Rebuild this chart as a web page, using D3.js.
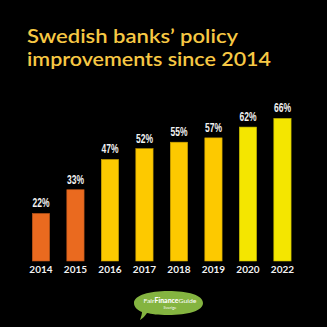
<!DOCTYPE html>
<html>
<head>
<meta charset="utf-8">
<script src="https://cdn.jsdelivr.net/npm/d3@7"></script>
<style>
html,body{margin:0;padding:0;background:#000;}
svg{display:block;}
</style>
</head>
<body>
<svg id="chart" width="327" height="327"></svg>
<script>
const years = ["2014","2015","2016","2017","2018","2019","2020","2022"];
const values = [22,33,47,52,55,57,62,66];
const barColors = ["#ea6a1f","#ea6a1f","#fdc900","#fdc900","#fdc900","#fdc900","#f4e600","#f4e600"];
const titleLines = ["Swedish banks\u2019 policy","improvements since 2014"];
const titleWidths = [211,244];

const svg = d3.select("#chart");
svg.append("rect").attr("width",327).attr("height",327).attr("fill","#000");

// Title
svg.append("g").selectAll("text").data(titleLines).join("text")
  .attr("x",27).attr("y",(d,i)=>43 + i*23)
  .attr("fill","#f7c844")
  .attr("font-family","Lato, 'Open Sans', sans-serif")
  .attr("font-weight",600)
  .attr("font-size",19)
  .attr("textLength",(d,i)=>titleWidths[i])
  .attr("lengthAdjust","spacingAndGlyphs")
  .text(d=>d);

const x = d3.scaleBand().domain(years).range([23.7,299.7]).paddingInner(0.5).paddingOuter(0.25);
const y = d3.scaleLinear().domain([0,100]).range([261,45]);

svg.selectAll("rect.bar").data(values).join("rect")
  .attr("class","bar")
  .attr("x",(d,i)=>x(years[i]))
  .attr("y",d=>y(d))
  .attr("width",x.bandwidth())
  .attr("height",d=>y(0)-y(d))
  .attr("fill",(d,i)=>barColors[i])
  .attr("stroke",(d,i)=>d3.color(barColors[i]).darker(0.6))
  .attr("stroke-width",0.6);

svg.selectAll("text.val").data(values).join("text")
  .attr("class","val")
  .attr("x",(d,i)=>x(years[i])+x.bandwidth()/2)
  .attr("y",d=>y(d)-6)
  .attr("text-anchor","middle")
  .attr("fill","#f2f2f2")
  .attr("font-family","'Liberation Sans','DejaVu Sans',sans-serif")
  .attr("font-weight",700)
  .attr("font-size",12.5)
  .attr("textLength",17)
  .attr("lengthAdjust","spacingAndGlyphs")
  .text(d=>d+"%");

// x axis labels
const xAxis = d3.axisBottom(x).tickSize(0).tickPadding(0);
const ax = svg.append("g").attr("transform","translate(0,266)").call(xAxis);
ax.select(".domain").remove();
ax.selectAll("text")
  .attr("fill","#f2f2f2")
  .attr("font-family","Lato, sans-serif")
  .attr("font-weight",700)
  .attr("font-size",10)
  .attr("dy","0.71em");

// Logo
const logo = svg.append("g").attr("transform","translate(168,303)");
logo.append("path")
  .attr("d","M-34,0 C-34,-8 -18,-12 0,-12 C20,-12 35,-8 35,0 C35,8 20,12 0,12 C-10,12 -17,11 -21,10 C-23,13 -25,15 -28,17 C-27,14 -26,11 -26,9 C-31,7 -34,4 -34,0 Z")
  .attr("fill","#84b440");
logo.append("text").attr("x",2).attr("y",-0.5).attr("text-anchor","middle")
  .attr("font-family","Lato, sans-serif").attr("font-size",6.5).attr("fill","#fff")
  .attr("textLength",53).attr("lengthAdjust","spacingAndGlyphs")
  .html('<tspan font-weight="400">Fair</tspan><tspan font-weight="900">Finance</tspan><tspan font-weight="400">Guide</tspan>');
logo.append("text").attr("x",2).attr("y",6).attr("text-anchor","middle")
  .attr("font-family","Lato, sans-serif").attr("font-size",4).attr("fill","#fff")
  .text("Sverige");
</script>
</body>
</html>
